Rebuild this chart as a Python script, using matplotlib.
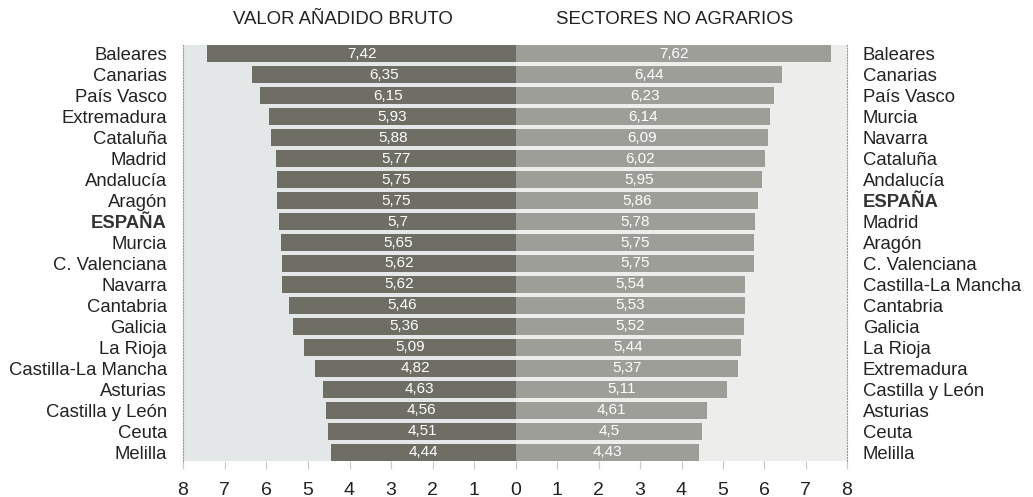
import numpy as np
import matplotlib.pyplot as plt

plt.rcParams['font.family'] = ['Liberation Sans', 'DejaVu Sans']

# Datos (tasas de crecimiento, %)
regiones_vab = ["Baleares", "Canarias", "País Vasco", "Extremadura", "Cataluña",
                "Madrid", "Andalucía", "Aragón", "ESPAÑA", "Murcia",
                "C. Valenciana", "Navarra", "Cantabria", "Galicia", "La Rioja",
                "Castilla-La Mancha", "Asturias", "Castilla y León", "Ceuta", "Melilla"]
valores_vab = [7.42, 6.35, 6.15, 5.93, 5.88, 5.77, 5.75, 5.75, 5.7, 5.65,
               5.62, 5.62, 5.46, 5.36, 5.09, 4.82, 4.63, 4.56, 4.51, 4.44]

regiones_na = ["Baleares", "Canarias", "País Vasco", "Murcia", "Navarra",
               "Cataluña", "Andalucía", "ESPAÑA", "Madrid", "Aragón",
               "C. Valenciana", "Castilla-La Mancha", "Cantabria", "Galicia", "La Rioja",
               "Extremadura", "Castilla y León", "Asturias", "Ceuta", "Melilla"]
valores_na = [7.62, 6.44, 6.23, 6.14, 6.09, 6.02, 5.95, 5.86, 5.78, 5.75,
              5.75, 5.54, 5.53, 5.52, 5.44, 5.37, 5.11, 4.61, 4.5, 4.43]

ticks = [0, 1, 2, 3, 4, 5, 6, 7, 8]


def fmt(v):
    return ("%g" % v).replace(".", ",")


fig = plt.figure(figsize=(10.33, 4.97), dpi=100)
ax_l = fig.add_axes([183 / 1033, 1 - 461 / 497, 333 / 1033, 416 / 497])
ax_r = fig.add_axes([516 / 1033, 1 - 461 / 497, 331 / 1033, 416 / 497])

y = np.arange(len(regiones_vab))
alto = 0.81

# Panel izquierdo: barras hacia la izquierda
ax_l.set_facecolor("#e4e7e7")
ax_l.barh(y, valores_vab, height=alto, color="#6e6e65")
ax_l.set_xlim(8, 0)
for yi, v in zip(y, valores_vab):
    ax_l.text(v / 2, yi, fmt(v), ha="center", va="center", color="white", fontsize=11)

# Panel derecho
ax_r.set_facecolor("#ededeb")
ax_r.barh(y, valores_na, height=alto, color="#9e9e98")
ax_r.set_xlim(0, 8)
for yi, v in zip(y, valores_na):
    ax_r.text(v / 2, yi, fmt(v), ha="center", va="center", color="white", fontsize=11)

for ax, regs, side in [(ax_l, regiones_vab, "left"), (ax_r, regiones_na, "right")]:
    ax.set_ylim(19.42, -0.42)
    ax.set_xticks(ticks)
    # el 0 central solo se rotula una vez
    etiquetas = [str(t) if (t != 0 or side == "right") else "" for t in ticks]
    ax.set_xticklabels(etiquetas, fontsize=14, color="#222222")
    ax.tick_params(axis="x", length=6, color="#c8c8c8", pad=9)
    ax.set_yticks(y)
    ax.set_yticklabels(regs, fontsize=13.3, color="#222222")
    if side == "right":
        ax.yaxis.tick_right()
    ax.tick_params(axis="y", length=0, pad=11.5)
    for lbl in ax.get_yticklabels():
        if lbl.get_text() == "ESPAÑA":
            lbl.set_fontweight("bold")
            lbl.set_color("#333333")
    for s in ["top", "bottom", "left", "right"]:
        ax.spines[s].set_visible(False)

ax_l.spines["left"].set_visible(True)
ax_l.spines["left"].set_linestyle(":")
ax_l.spines["left"].set_color("#999999")
ax_r.spines["right"].set_visible(True)
ax_r.spines["right"].set_linestyle(":")
ax_r.spines["right"].set_color("#999999")

fig.text(343 / 1033, 1 - 20 / 497, "VALOR AÑADIDO BRUTO", ha="center", va="center",
         fontsize=13.4, color="#222222")
fig.text(675 / 1033, 1 - 20 / 497, "SECTORES NO AGRARIOS", ha="center", va="center",
         fontsize=13.4, color="#222222")

fig.savefig("out.png", dpi=100, facecolor="white")
